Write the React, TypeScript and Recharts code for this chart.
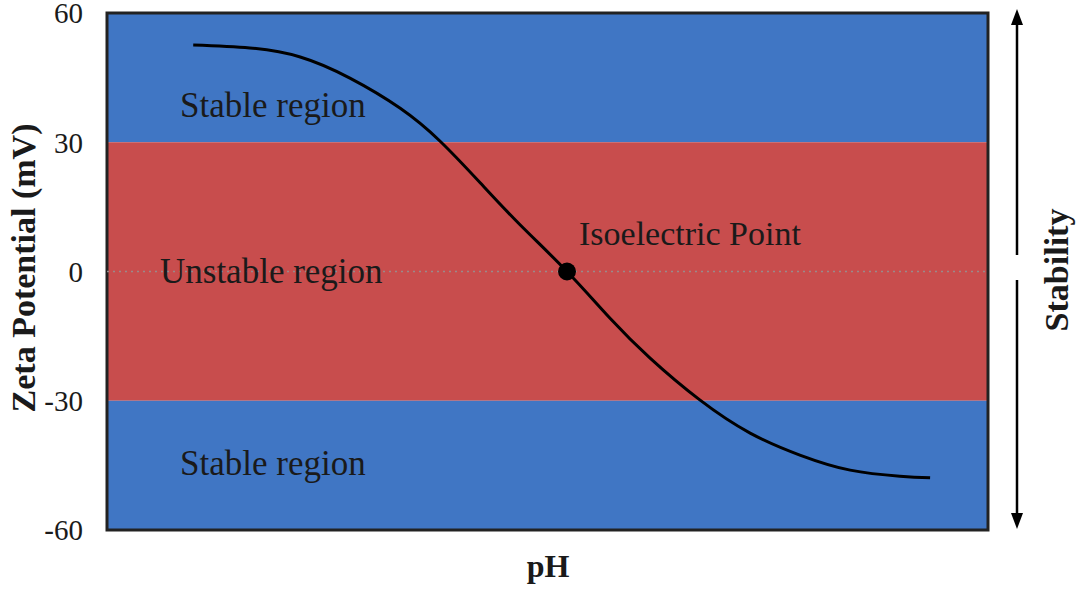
import { LineChart, Line, XAxis, YAxis, ReferenceArea, ReferenceLine, ReferenceDot } from 'recharts';

// pH readings along the curve and the zeta potential (mV)
const phValues = [1.37, 2.27, 3.07, 3.86, 4.66, 5.29, 5.93, 6.56, 7.31, 7.99, 8.63, 9.42, 10.22, 11.01, 11.81, 12.6, 13.08];
const zetaValues = [52.6, 51.9, 49.8, 44.9, 37.9, 30.3, 20.6, 10.9, 0, -10.8, -20.1, -29.8, -37.5, -42.6, -46.1, -47.5, -47.9];
const yTicks = [60, 30, 0, -30, -60];
const isoelectricPh = 7.31;

const BLUE = '#4076C4';
const RED = '#C84D4D';
const FONT = '"Liberation Serif", "Times New Roman", serif';
const INK = '#1a1a1a';

const data = phValues.map((ph, i) => ({ ph, zeta: zetaValues[i] }));

export default function App() {
  return (
    <div style={{ position: 'absolute', left: 0, top: 0, width: 1080, height: 589, background: '#fff' }}>
      <LineChart width={1080} height={589} data={data} margin={{ top: 13, right: 92, bottom: 59, left: 0 }}>
        <XAxis type="number" dataKey="ph" domain={[0, 14]} hide />
        <YAxis
          type="number"
          domain={[-60, 60]}
          ticks={yTicks}
          interval={0}
          width={107}
          axisLine={false}
          tickLine={false}
          tickSize={0}
          tickMargin={24}
          tick={{ fill: INK, fontSize: 29, fontFamily: FONT }}
        />
        <ReferenceArea y1={30} y2={60} fill={BLUE} fillOpacity={1} stroke="none" />
        <ReferenceArea y1={-30} y2={30} fill={RED} fillOpacity={1} stroke="none" />
        <ReferenceArea y1={-60} y2={-30} fill={BLUE} fillOpacity={1} stroke="none" />
        <ReferenceLine y={0} stroke="#9a8a8a" strokeWidth={1.5} strokeDasharray="2 4" />
        <ReferenceArea y1={-60} y2={60} fill="none" stroke="#222" strokeWidth={3} />
        <Line
          type="natural"
          dataKey="zeta"
          stroke="#000"
          strokeWidth={3}
          dot={false}
          activeDot={false}
          isAnimationActive={false}
        />
        <ReferenceDot x={isoelectricPh} y={0} r={9} fill="#000" stroke="none" />
      </LineChart>

      <svg
        width={1080}
        height={589}
        style={{ position: 'absolute', left: 0, top: 0, pointerEvents: 'none' }}
        fontFamily={FONT}
        fill={INK}
      >
        <text x={180} y={117} fontSize={35}>Stable region</text>
        <text x={160} y={283} fontSize={35}>Unstable region</text>
        <text x={180} y={475} fontSize={35}>Stable region</text>
        <text x={579} y={245} fontSize={34}>Isoelectric Point</text>

        <text x={548} y={577} fontSize={32} fontWeight="bold" textAnchor="middle">pH</text>
        <text transform="translate(35,268) rotate(-90)" fontSize={34} fontWeight="bold" textAnchor="middle">
          Zeta Potential (mV)
        </text>
        <text transform="translate(1068,270) rotate(-90)" fontSize={34} fontWeight="bold" textAnchor="middle">
          Stability
        </text>

        {/* double arrow on the right, broken around the label */}
        <line x1={1017} y1={22} x2={1017} y2={255} stroke="#000" strokeWidth={2.5} />
        <line x1={1017} y1={280} x2={1017} y2={516} stroke="#000" strokeWidth={2.5} />
        <polygon points="1017,9 1011,25 1023,25" fill="#000" />
        <polygon points="1017,529 1011,513 1023,513" fill="#000" />
      </svg>
    </div>
  );
}
